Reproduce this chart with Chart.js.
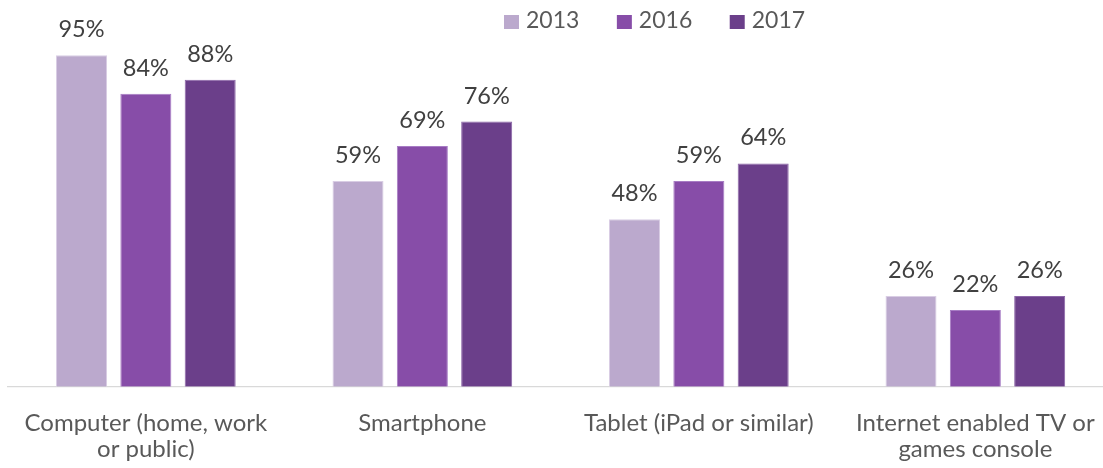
<!DOCTYPE html>
<html>
<head>
<meta charset="utf-8">
<script src="https://cdn.jsdelivr.net/npm/chart.js@4/dist/chart.umd.min.js"></script>
<style>
  html, body { margin: 0; padding: 0; background: #fff; overflow: hidden; }
  #wrap { width: 1103px; height: 468px; overflow: hidden; }
</style>
</head>
<body>
<div id="wrap"><canvas id="devChart" width="1114" height="468"></canvas></div>
<script>
const categories = [
  ['Computer (home, work', 'or public)'],
  'Smartphone',
  'Tablet (iPad or similar)',
  ['Internet enabled TV or', 'games console']
];
const years = ['2013', '2016', '2017'];
const values2013 = [95, 59, 48, 26];
const values2016 = [84, 69, 59, 22];
const values2017 = [88, 76, 64, 26];

const fills = ['#BBA9CD', '#874DA8', '#6B3F8A'];
const edges = ['#D9CDE4', '#A77CC4', '#8C66A8'];
const FONT = 'Lato, "Open Sans", sans-serif';

// percentage labels above each bar
const barLabels = {
  id: 'barLabels',
  afterDatasetsDraw(chart) {
    const ctx = chart.ctx;
    ctx.save();
    ctx.font = '23.5px ' + FONT;
    ctx.fillStyle = '#404040';
    ctx.textAlign = 'center';
    ctx.textBaseline = 'alphabetic';
    chart.data.datasets.forEach((ds, i) => {
      chart.getDatasetMeta(i).data.forEach((bar, j) => {
        ctx.fillText(ds.data[j] + '%', bar.x, bar.y - 18);
      });
    });
    ctx.restore();
  }
};

// legend row at the top
const topLegend = {
  id: 'topLegend',
  afterDraw(chart) {
    const ctx = chart.ctx;
    ctx.save();
    ctx.font = '23px ' + FONT;
    ctx.textBaseline = 'alphabetic';
    ctx.textAlign = 'left';
    let x = 504;
    chart.data.datasets.forEach(ds => {
      ctx.fillStyle = ds.backgroundColor;
      ctx.fillRect(x, 15, 15, 14);
      ctx.fillStyle = '#595959';
      ctx.fillText(ds.label, x + 22, 28);
      x += 22 + ctx.measureText(ds.label).width + 37.5;
    });
    ctx.restore();
  }
};

const series = [values2013, values2016, values2017];

new Chart(document.getElementById('devChart').getContext('2d'), {
  type: 'bar',
  data: {
    labels: categories,
    datasets: series.map((vals, i) => ({
      label: years[i],
      data: vals,
      backgroundColor: fills[i],
      borderColor: edges[i],
      borderWidth: 1,
      categoryPercentage: 0.698,
      barPercentage: 0.793
    }))
  },
  options: {
    responsive: false,
    animation: false,
    devicePixelRatio: 1,
    layout: { padding: { left: 7.6, right: 0.4, top: 37.9, bottom: 0 } },
    plugins: {
      legend: { display: false },
      tooltip: { enabled: false }
    },
    scales: {
      x: {
        grid: { display: false, drawTicks: false },
        border: { display: true, color: '#D9D9D9', width: 1.3 },
        ticks: {
          color: '#595959',
          font: { family: FONT, size: 24, lineHeight: 1.1 },
          padding: 23,
          maxRotation: 0,
          autoSkip: false
        },
        afterFit(scale) {
          scale.height = 81.3;
          // long edge labels must not squeeze the category band
          scale.paddingLeft = 0;
          scale.paddingRight = 0;
        }
      },
      y: {
        display: false,
        min: 0,
        max: 100
      }
    }
  },
  plugins: [barLabels, topLegend]
});
</script>
</body>
</html>
